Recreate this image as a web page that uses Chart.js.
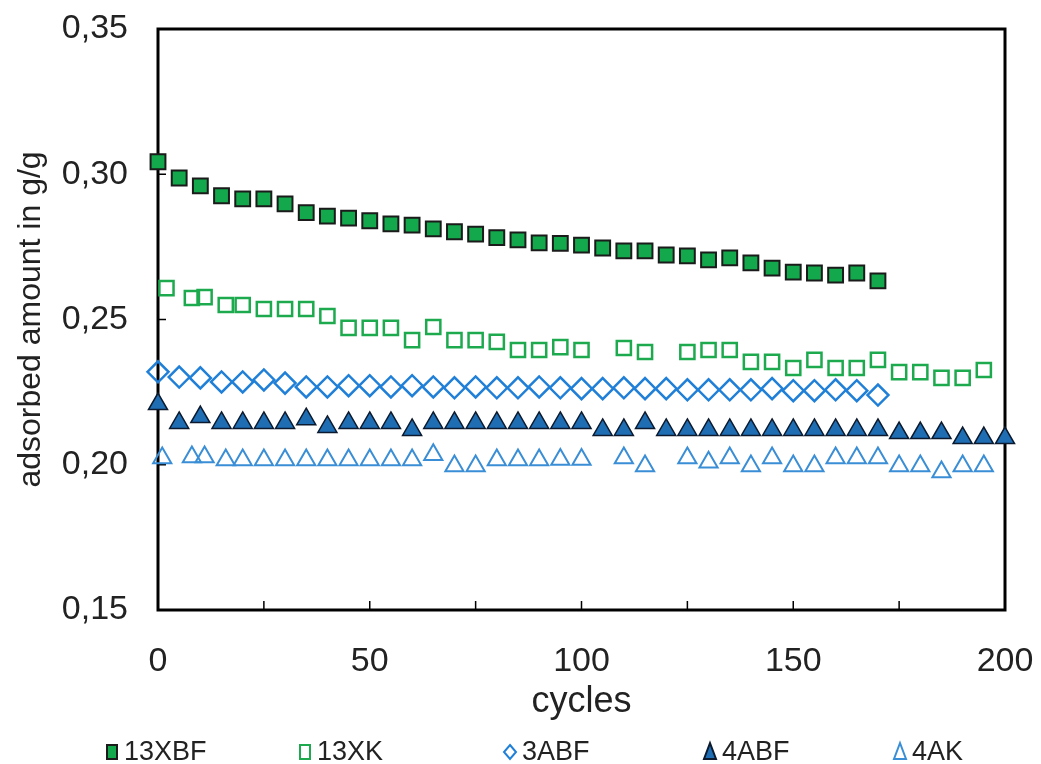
<!DOCTYPE html>
<html>
<head>
<meta charset="utf-8">
<script src="https://cdn.jsdelivr.net/npm/chart.js@4.4.1/dist/chart.umd.min.js"></script>
<style>
  html, body { margin: 0; padding: 0; background: #fff; overflow: hidden; }
</style>
</head>
<body>
<canvas id="adsChart" width="1041" height="764"></canvas>
<script>
// cycles for each series
var cycles13XBF = [0, 5, 10, 15, 20, 25, 30, 35, 40, 45, 50, 55, 60, 65, 70, 75, 80, 85, 90, 95, 100,
  105, 110, 115, 120, 125, 130, 135, 140, 145, 150, 155, 160, 165, 170];
var cycles13XK = [2, 8, 11, 16, 20, 25, 30, 35, 40, 45, 50, 55, 60, 65, 70, 75, 80, 85, 90, 95, 100,
  110, 115, 125, 130, 135, 140, 145, 150, 155, 160, 165, 170, 175, 180, 185, 190, 195];
var cycles3ABF = [0, 5, 10, 15, 20, 25, 30, 35, 40, 45, 50, 55, 60, 65, 70, 75, 80, 85, 90, 95, 100,
  105, 110, 115, 120, 125, 130, 135, 140, 145, 150, 155, 160, 165, 170];
var cycles4ABF = [0, 5, 10, 15, 20, 25, 30, 35, 40, 45, 50, 55, 60, 65, 70, 75, 80, 85, 90, 95, 100,
  105, 110, 115, 120, 125, 130, 135, 140, 145, 150, 155, 160, 165, 170, 175, 180, 185, 190, 195, 200];
var cycles4AK = [1, 8, 11, 16, 20, 25, 30, 35, 40, 45, 50, 55, 60, 65, 70, 75, 80, 85, 90, 95, 100,
  110, 115, 125, 130, 135, 140, 145, 150, 155, 160, 165, 170, 175, 180, 185, 190, 195];

// adsorbed amount in g/g
var values13XBF = [0.3043, 0.2987, 0.2960, 0.2926, 0.2915, 0.2915, 0.2898, 0.2868, 0.2856, 0.2849,
  0.2840, 0.2829, 0.2825, 0.2812, 0.2802, 0.2794, 0.2782, 0.2774, 0.2764, 0.2762, 0.2756, 0.2746,
  0.2736, 0.2736, 0.2722, 0.2719, 0.2705, 0.2712, 0.2695, 0.2677, 0.2663, 0.2660, 0.2653, 0.2660, 0.2633];
var values13XK = [0.2608, 0.2574, 0.2577, 0.2550, 0.2550, 0.2536, 0.2536, 0.2536, 0.2512, 0.2471,
  0.2471, 0.2471, 0.2429, 0.2474, 0.2429, 0.2429, 0.2423, 0.2395, 0.2395, 0.2405, 0.2395, 0.2402,
  0.2388, 0.2388, 0.2395, 0.2395, 0.2354, 0.2354, 0.2333, 0.2361, 0.2333, 0.2333, 0.2361, 0.2319,
  0.2319, 0.2299, 0.2299, 0.2326];
var values3ABF = [0.2320, 0.2302, 0.2299, 0.2285, 0.2285, 0.2292, 0.2281, 0.2268, 0.2268, 0.2272,
  0.2272, 0.2268, 0.2272, 0.2268, 0.2265, 0.2268, 0.2265, 0.2265, 0.2268, 0.2265, 0.2262, 0.2262,
  0.2265, 0.2262, 0.2262, 0.2258, 0.2258, 0.2258, 0.2258, 0.2262, 0.2255, 0.2255, 0.2258, 0.2255, 0.2240];
var values4ABF = [0.2209, 0.2144, 0.2164, 0.2144, 0.2144, 0.2144, 0.2144, 0.2157, 0.2130, 0.2144,
  0.2144, 0.2144, 0.2120, 0.2144, 0.2144, 0.2144, 0.2144, 0.2144, 0.2144, 0.2144, 0.2144, 0.2120,
  0.2120, 0.2144, 0.2120, 0.2120, 0.2120, 0.2120, 0.2120, 0.2120, 0.2120, 0.2120, 0.2120, 0.2120,
  0.2120, 0.2109, 0.2109, 0.2109, 0.2092, 0.2092, 0.2092];
var values4AK = [0.2023, 0.2027, 0.2027, 0.2016, 0.2016, 0.2016, 0.2016, 0.2016, 0.2016, 0.2016,
  0.2016, 0.2016, 0.2016, 0.2034, 0.1996, 0.1996, 0.2016, 0.2016, 0.2016, 0.2018, 0.2018, 0.2023,
  0.1996, 0.2023, 0.2009, 0.2023, 0.1996, 0.2023, 0.1996, 0.1996, 0.2023, 0.2023, 0.2023, 0.1996,
  0.1996, 0.1975, 0.1996, 0.1996];

var seriesNames = ["13XBF", "13XK", "3ABF", "4ABF", "4AK"];
var yTicks = [0.15, 0.20, 0.25, 0.30, 0.35];
var xLabels = [0, 50, 100, 150, 200];

function toPoints(xs, ys) {
  return xs.map(function (x, i) { return { x: x, y: ys[i] }; });
}

var FONT = "'Liberation Sans', Arial, sans-serif";

var datasets = [
  { label: seriesNames[0], data: toPoints(cycles13XBF, values13XBF), pointStyle: "rect",
    pointRadius: 10.5, backgroundColor: "#12a84b", borderColor: "#1b1b1b", borderWidth: 2 },
  { label: seriesNames[1], data: toPoints(cycles13XK, values13XK), pointStyle: "rect",
    pointRadius: 10, backgroundColor: "rgba(255,255,255,0)", borderColor: "#1daa4e", borderWidth: 2.5 },
  { label: seriesNames[2], data: toPoints(cycles3ABF, values3ABF), pointStyle: "rectRot",
    pointRadius: 10.5, backgroundColor: "rgba(255,255,255,0)", borderColor: "#2080d8", borderWidth: 2.5 },
  { label: seriesNames[3], data: toPoints(cycles4ABF, values4ABF), pointStyle: "triangle",
    pointRadius: 11, backgroundColor: "#1f6eb4", borderColor: "#0b1a2e", borderWidth: 1.5 },
  { label: seriesNames[4], data: toPoints(cycles4AK, values4AK), pointStyle: "triangle",
    pointRadius: 10.5, backgroundColor: "rgba(255,255,255,0)", borderColor: "#3a8ed6", borderWidth: 2 }
];
datasets.forEach(function (d) {
  d.showLine = false;
  d.clip = false;
  d.pointHoverRadius = d.pointRadius;
  d.pointBorderWidth = d.borderWidth;
});

// frame and inward tick marks
var framePlugin = {
  id: "frame",
  beforeDatasetsDraw: function (chart) {
    var ctx = chart.ctx, a = chart.chartArea;
    var xs = chart.scales.x, ys = chart.scales.y;
    ctx.save();
    ctx.strokeStyle = "#000";
    ctx.lineWidth = 1.5;
    ctx.beginPath();
    ys.ticks.forEach(function (t) {
      var py = ys.getPixelForValue(t.value);
      ctx.moveTo(a.left, py);
      ctx.lineTo(a.left + 8, py);
    });
    xs.ticks.forEach(function (t) {
      var px = xs.getPixelForValue(t.value);
      ctx.moveTo(px, a.bottom);
      ctx.lineTo(px, a.bottom - 9);
    });
    ctx.stroke();
    ctx.lineWidth = 3;
    ctx.strokeRect(a.left, a.top, a.right - a.left, a.bottom - a.top);
    ctx.restore();
  }
};

// legend row along the bottom edge
var legendPlugin = {
  id: "bottomLegend",
  afterDraw: function (chart) {
    var ctx = chart.ctx;
    var xPos = [112, 305, 510, 710, 900];
    var y = 752;
    ctx.save();
    chart.data.datasets.forEach(function (d, i) {
      var x = xPos[i];
      ctx.beginPath();
      if (d.pointStyle === "rect") {
        ctx.rect(x - 5, y - 7, 10, 14);
      } else if (d.pointStyle === "rectRot") {
        ctx.moveTo(x, y - 7); ctx.lineTo(x + 6, y); ctx.lineTo(x, y + 7); ctx.lineTo(x - 6, y);
        ctx.closePath();
      } else {
        ctx.moveTo(x, y - 9); ctx.lineTo(x + 6, y + 7); ctx.lineTo(x - 6, y + 7);
        ctx.closePath();
      }
      ctx.fillStyle = d.backgroundColor;
      ctx.fill();
      ctx.lineWidth = 2;
      ctx.strokeStyle = d.borderColor;
      ctx.stroke();
      ctx.fillStyle = "#222";
      ctx.font = "27px " + FONT;
      ctx.textAlign = "left";
      ctx.textBaseline = "middle";
      ctx.fillText(d.label, x + 12, y + 1);
    });
    ctx.restore();
  }
};

var config = {
  type: "scatter",
  data: { datasets: datasets },
  plugins: [framePlugin, legendPlugin],
  options: {
    responsive: false,
    animation: false,
    devicePixelRatio: 1,
    layout: { autoPadding: false, padding: { top: 29, right: 36, bottom: 40, left: 0 } },
    plugins: { legend: { display: false }, tooltip: { enabled: false } },
    scales: {
      x: {
        type: "linear",
        min: 0,
        max: 200,
        afterFit: function (scale) {
          scale.height = 114;
          scale.paddingLeft = 0;
          scale.paddingRight = 0;
        },
        grid: { display: false, drawTicks: false },
        border: { display: false },
        ticks: {
          stepSize: 25,
          autoSkip: false,
          maxRotation: 0,
          padding: 31,
          color: "#222",
          font: { family: FONT, size: 34 },
          callback: function (v) { return xLabels.indexOf(v) >= 0 ? String(v) : ""; }
        },
        title: {
          display: true,
          text: "cycles",
          color: "#222",
          font: { family: FONT, size: 36 },
          padding: { top: 0, bottom: 0 }
        }
      },
      y: {
        min: 0.15,
        max: 0.35,
        afterFit: function (scale) {
          scale.width = 158;
          scale.paddingTop = 0;
          scale.paddingBottom = 0;
        },
        afterBuildTicks: function (scale) {
          scale.ticks = yTicks.map(function (v) { return { value: v }; });
        },
        grid: { display: false, drawTicks: false },
        border: { display: false },
        ticks: {
          padding: 30,
          color: "#222",
          font: { family: FONT, size: 34 },
          callback: function (v) { return v.toFixed(2).replace(".", ","); }
        },
        title: {
          display: true,
          text: "adsorbed amount in g/g",
          color: "#222",
          font: { family: FONT, size: 32 },
          padding: { top: 12, bottom: 0 }
        }
      }
    }
  }
};

var myChart = new Chart(document.getElementById("adsChart").getContext("2d"), config);
</script>
</body>
</html>
